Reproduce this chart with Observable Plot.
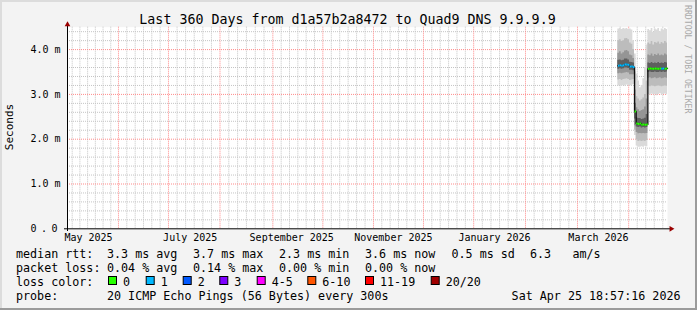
<!DOCTYPE html>
<html><head><meta charset="utf-8">
<script src="https://cdn.jsdelivr.net/npm/d3@7"></script>
<script src="https://cdn.jsdelivr.net/npm/@observablehq/plot@0.6"></script>
<style>
html,body{margin:0;padding:0;background:#f3f3f3;}
#chart{position:relative;width:697px;height:310px;overflow:hidden;background:#f3f3f3;}
svg{display:block;}
</style></head><body><div id="chart"></div>
<script>
// ---------- texts ----------
const title = "Last 360 Days from d1a57b2a8472 to Quad9 DNS 9.9.9.9";
const yLabel = "Seconds";
const sideText = "RRDTOOL / TOBI OETIKER";
const rangeStart = "2025-04-30T18:57:16Z";
const rangeEnd = "2026-04-25T18:57:16Z";
const yMax = 4.5;
const yTicks = [0, 1, 2, 3, 4];
const yTickLabels = ["0.0", "1.0 m", "2.0 m", "3.0 m", "4.0 m"];
const monthLabels = ["May 2025", "July 2025", "September 2025", "November 2025", "January 2026", "March 2026"];
const monthLabelDates = ["2025-05-13T10:00Z", "2025-07-13T10:00Z", "2025-09-12T08:00Z", "2025-11-12T08:00Z", "2026-01-12T00:00Z", "2026-03-15T09:00Z"];
const majorGridDates = ["2025-05-31T09:00Z", "2025-06-30T09:00Z", "2025-07-31T07:00Z", "2025-09-01T00:00Z", "2025-10-01T00:00Z", "2025-10-31T09:00Z", "2025-11-30T09:00Z", "2025-12-30T12:00Z", "2026-01-30T14:00Z", "2026-03-02T19:00Z", "2026-04-02T12:00Z"];
const minorGridFirst = "2025-05-03T14:40Z";

// ---------- series (daily) ----------
const days = ["2026-03-27","2026-03-28","2026-03-29","2026-03-30","2026-03-31","2026-04-01","2026-04-02","2026-04-03","2026-04-04","2026-04-05","2026-04-06","2026-04-07","2026-04-08","2026-04-09","2026-04-10","2026-04-11","2026-04-12","2026-04-13","2026-04-14","2026-04-15","2026-04-16","2026-04-17","2026-04-18","2026-04-19","2026-04-20","2026-04-21","2026-04-22","2026-04-23","2026-04-24","2026-04-25"];
const median = [3.64,3.65,3.64,3.65,3.67,3.67,3.66,3.62,3.62,3.61, 2.62, 2.35,2.34,2.35,2.32,2.33,2.32,2.33, 3.57,3.58,3.57,3.57,3.58,3.57,3.57,3.58,3.57,3.58,3.57,3.58];
const lossCount = [1,1,1,1,1,1,1,1,1,1, 0, 0,0,0,0,0,0,0, 0,0,0,0,0,0,0,0,1,1,0,0];
const pMax = [4.46,4.47,4.45,4.47,4.46,4.47,4.45,4.46,4.44,4.20, 3.90, 3.45,3.30,3.15,3.20,3.35,3.60,4.10, 4.45,4.42,4.47,4.38,4.46,4.44,4.47,4.40,4.46,4.43,4.47,4.45];
const p90 = [4.20,4.22,4.18,4.20,4.24,4.25,4.22,4.15,4.12,4.00, 3.50, 2.95,2.90,2.85,2.88,2.92,3.00,3.30, 4.15,4.12,4.18,4.10,4.16,4.14,4.17,4.12,4.16,4.13,4.18,4.15];
const p75 = [3.92,3.95,3.90,3.93,3.97,3.98,3.95,3.88,3.86,3.80, 3.10, 2.70,2.66,2.62,2.64,2.66,2.72,2.90, 3.88,3.86,3.90,3.85,3.89,3.87,3.90,3.86,3.88,3.86,3.90,3.88];
const p60 = [3.76,3.77,3.75,3.76,3.79,3.79,3.77,3.72,3.71,3.70, 2.80, 2.48,2.46,2.46,2.44,2.45,2.47,2.55, 3.70,3.69,3.71,3.69,3.70,3.69,3.71,3.69,3.70,3.69,3.71,3.70];
const p40 = [3.56,3.57,3.56,3.57,3.59,3.59,3.58,3.54,3.54,3.53, 2.45, 2.27,2.26,2.27,2.25,2.26,2.25,2.26, 3.49,3.50,3.49,3.49,3.50,3.49,3.49,3.50,3.49,3.50,3.49,3.50];
const p25 = [3.46,3.47,3.46,3.47,3.48,3.49,3.48,3.44,3.44,3.44, 2.30, 2.15,2.12,2.13,2.12,2.13,2.12,2.13, 3.36,3.37,3.35,3.36,3.37,3.35,3.36,3.37,3.35,3.36,3.37,3.36];
const p10 = [3.32,3.33,3.31,3.33,3.34,3.35,3.33,3.31,3.32,3.33, 2.20, 1.98,1.95,1.96,1.95,1.96,1.95,1.97, 3.18,3.17,3.19,3.18,3.17,3.18,3.19,3.18,3.17,3.18,3.19,3.18];
const pMin = [3.19,3.20,3.18,3.20,3.19,3.21,3.20,3.19,3.20,3.22, 2.08, 1.85,1.82,1.82,1.83,1.82,1.84,1.83, 3.00,2.98,3.01,2.99,3.00,2.97,3.00,3.02,2.98,3.00,3.01,2.99];

// ---------- legend ----------
const lossColors = ["#26ff00", "#00b8ff", "#0059ff", "#7e00ff", "#ff00ff", "#ff5500", "#ff0000", "#a00000"];
const lossLabels = ["0", "1", "2", "3", "4-5", "6-10", "11-19", "20/20"];
const rowLabels = ["median rtt:", "packet loss:", "loss color:", "probe:"];
const rttStats = ["3.3 ms avg", "3.7 ms max", "2.3 ms min", "3.6 ms now", "0.5 ms sd", "6.3", "am/s"];
const lossStats = ["0.04 % avg", "0.14 % max", "0.00 % min", "0.00 % now"];
const probeText = "20 ICMP Echo Pings (56 Bytes) every 300s";
const timestamp = "Sat Apr 25 18:57:16 2026";

// ---------- build ----------
const FONT = "'DejaVu Sans Mono', monospace";
const DAY = 86400000;
const t0 = new Date(rangeStart), t1 = new Date(rangeEnd);
const majors = majorGridDates.map(d => new Date(d));
const minors = [];
{
  const bounds = [new Date(minorGridFirst), ...majors];
  for (let i = 0; i < bounds.length - 1; i++) {
    const a = +bounds[i], b = +bounds[i + 1];
    for (let k = (i === 0 ? 0 : 1); k < 6; k++) minors.push(new Date(a + (b - a) * k / 6));
  }
  const last = +majors[majors.length - 1], prev = +majors[majors.length - 2];
  const step = (last - prev) / 6;
  for (let t = last + step; t < +t1; t += step) minors.push(new Date(t));
}
const minorY = d3.range(1, 23).map(k => k / 5).filter(v => Math.abs(v - Math.round(v)) > 1e-6);
const majorY = [1, 2, 3, 4];

const lossCat = n => n === 0 ? 0 : n === 1 ? 1 : n === 2 ? 2 : n === 3 ? 3 : n <= 5 ? 4 : n <= 10 ? 5 : n <= 19 ? 6 : 7;
const table = days.map((d, i) => ({
  date: new Date(d),
  next: i < days.length - 1 ? new Date(days[i + 1]) : t1,
  median: median[i], loss: lossCount[i],
  min: pMin[i], p10: p10[i], p25: p25[i], p40: p40[i], p60: p60[i], p75: p75[i], p90: p90[i], max: pMax[i]
}));
const stepTable = [...table, {...table[table.length - 1], date: t1}];
const bands = [["min", "max", "#dadada"], ["p10", "p90", "#bcbcbc"], ["p25", "p75", "#959595"], ["p40", "p60", "#5e5e5e"]];

const plot = Plot.plot({
  width: 697, height: 310,
  marginLeft: 67, marginRight: 30, marginTop: 26.7, marginBottom: 81.7,
  x: {type: "utc", domain: [t0, t1], axis: null},
  y: {domain: [0, yMax], axis: null},
  style: {background: "transparent", overflow: "visible", color: "#000"},
  marks: [
    Plot.frame({fill: "white", stroke: null}),
    Plot.ruleX(minors, {stroke: "#c4c4c4", strokeDasharray: "1,1"}),
    Plot.ruleY(minorY, {stroke: "#c4c4c4", strokeDasharray: "1,1"}),
    Plot.ruleX(majors, {stroke: "#ff8a8a", strokeDasharray: "1,1"}),
    Plot.ruleY(majorY, {stroke: "#ff8a8a", strokeDasharray: "1,1"}),
    ...bands.map(([lo, hi, c]) => Plot.areaY(stepTable, {x: "date", y1: lo, y2: hi, curve: "step-after", fill: c})),
    Plot.line(stepTable, {x: "date", y: "median", curve: "step-after", stroke: "#111", strokeWidth: 1.3}),
    Plot.link(table, {x1: "date", x2: "next", y1: "median", y2: "median", stroke: d => lossColors[lossCat(d.loss)], strokeWidth: 2}),
    Plot.ruleY([0], {x1: new Date(+t0 - 1.8 * DAY), x2: new Date(+t1 + 1.9 * DAY), stroke: "#000"}),
    Plot.ruleX([t0], {y1: -0.06, y2: 4.56, stroke: "#000"}),
    Plot.dot([t0], {x: d => d, y: () => 4.56, symbol: "triangle", r: 2.1, fill: "#9a0000", stroke: null}),
    Plot.dot([t1], {x: d => new Date(+d + 2.2 * DAY), y: () => 0, symbol: "triangle", r: 2.1, rotate: 90, fill: "#9a0000", stroke: null}),
    Plot.text(yTicks, {x: () => t0, y: d => d, text: (d, i) => yTickLabels[i], textAnchor: "start", dx: -37, fontFamily: FONT, fontSize: 10, fill: "#000", className: "ylab"}),
    Plot.text(monthLabelDates, {x: d => new Date(d), y: () => 0, text: (d, i) => monthLabels[i], dy: 9.3, fontFamily: FONT, fontSize: 10, fill: "#000"})
  ]
});
document.getElementById("chart").appendChild(plot);

// widen the lone "0.0" label like the original
d3.select(plot).selectAll("text").filter(function() { return this.textContent === yTickLabels[0]; })
  .style("letter-spacing", "4.5px");

// ---------- overlay texts ----------
const svg = d3.select(plot);
const txt = (x, y, s, size, opts = {}) => {
  const t = svg.append("text").attr("x", x).attr("y", y).attr("font-family", FONT).attr("font-size", size)
    .attr("fill", opts.fill || "#000").attr("text-anchor", opts.anchor || "start").style("white-space", "pre").text(s);
  if (opts.transform) t.attr("transform", opts.transform).attr("x", 0).attr("y", 0);
  return t;
};
txt(347.5, 24, title, 13.3, {anchor: "middle"});
txt(0, 0, yLabel, 11, {anchor: "middle", transform: "translate(13.4,127) rotate(-90)"});
txt(0, 0, sideText, 8.2, {fill: "#a9a9a9", transform: "translate(685,5) rotate(90)"});

const LF = 11.7;
const rowY = [257.5, 271.5, 285.5, 299.5];
rowLabels.forEach((s, i) => txt(16, rowY[i], s, LF));
const rttX = [107, 193, 279, 365, 451.5, 530, 572.5];
rttStats.forEach((s, i) => txt(rttX[i], rowY[0], s, LF));
const lossX = [107, 193, 279, 365];
lossStats.forEach((s, i) => txt(lossX[i], rowY[1], s, LF));
const boxX = [108, 145.7, 182.7, 219.3, 256.7, 307.3, 365, 430.7];
lossLabels.forEach((s, i) => {
  svg.append("rect").attr("x", boxX[i] + 0.5).attr("y", 276.5).attr("width", 8).attr("height", 8)
    .attr("fill", lossColors[i]).attr("stroke", "#000").attr("stroke-width", 1);
  txt(boxX[i] + 15, rowY[2], s, LF);
});
txt(107, rowY[3], probeText, LF);
txt(680.5, rowY[3], timestamp, LF, {anchor: "end"});

// frame shading
svg.append("rect").attr("x", 0).attr("y", 0).attr("width", 697).attr("height", 2).attr("fill", "#dcdcdc");
svg.append("rect").attr("x", 0).attr("y", 0).attr("width", 2).attr("height", 310).attr("fill", "#dcdcdc");
svg.append("rect").attr("x", 695).attr("y", 0).attr("width", 2).attr("height", 310).attr("fill", "#9b9b9b");
svg.append("rect").attr("x", 0).attr("y", 308).attr("width", 697).attr("height", 2).attr("fill", "#9b9b9b");
</script></body></html>
